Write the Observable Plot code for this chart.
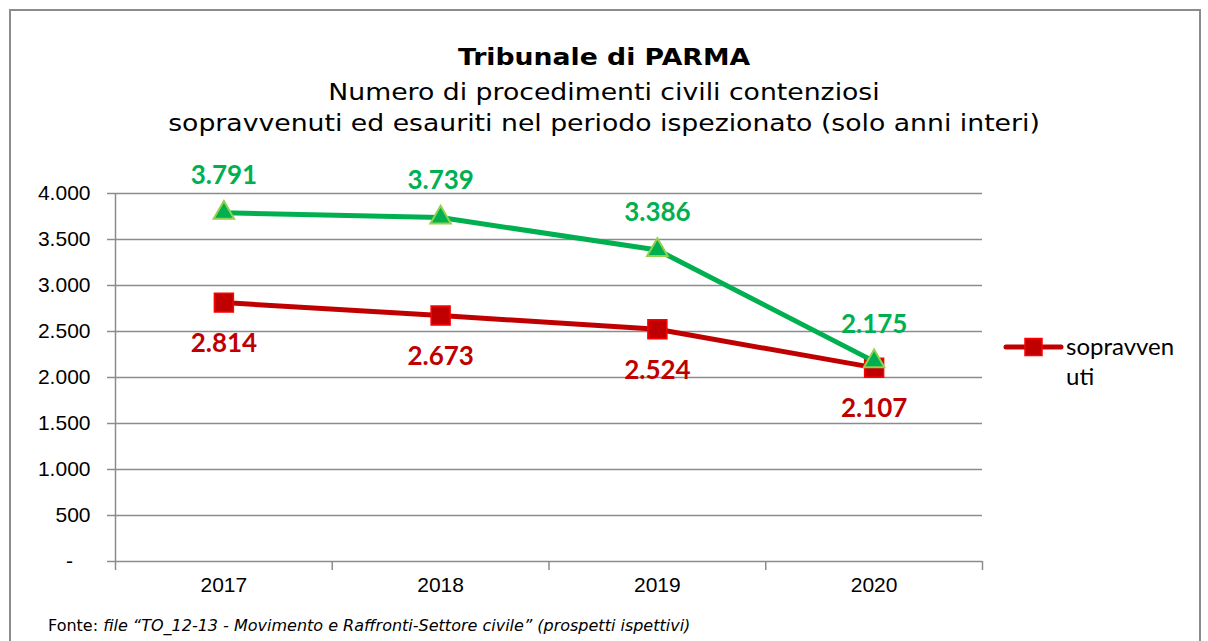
<!DOCTYPE html>
<html><head><meta charset="utf-8">
<script src="https://cdn.jsdelivr.net/npm/d3@7"></script>
<script src="https://cdn.jsdelivr.net/npm/@observablehq/plot@0.6"></script>
<style>
html,body{margin:0;padding:0;background:#fff;}
#wrap{position:relative;width:1208px;height:641px;overflow:hidden;}
#frame{position:absolute;left:9px;top:9px;width:1188px;height:700px;border:2px solid #8c8c8c;border-bottom:none;}
#chart{position:absolute;left:0;top:0;}
.t{position:absolute;left:0;width:1208px;text-align:center;font-family:"DejaVu Sans",Verdana,sans-serif;color:#000;white-space:nowrap;font-size:23px;line-height:28px;transform:scaleX(1.16);transform-origin:604px 0;}
#title{top:43px;font-weight:bold;}
#sub1{top:78px;}
#sub2{top:109px;}
#legend{position:absolute;left:1003px;top:331px;font-family:Lato,"Open Sans",sans-serif;font-size:24px;line-height:30px;color:#000;}
#legend svg{position:absolute;left:0;top:3px;}
#legend span{position:absolute;left:63px;top:0;white-space:nowrap;}
#source{position:absolute;left:48px;top:615px;font-family:"DejaVu Sans",Verdana,sans-serif;font-size:16px;line-height:22px;color:#000;white-space:nowrap;}
</style></head>
<body>
<div id="wrap">
  <div id="frame"></div>
  <div id="chart"></div>
  <div class="t" id="title">Tribunale di PARMA</div>
  <div class="t" id="sub1">Numero di procedimenti civili contenziosi</div>
  <div class="t" id="sub2">sopravvenuti ed esauriti nel periodo ispezionato (solo anni interi)</div>
  <div id="legend"><svg width="62" height="26"><line x1="3" y1="13" x2="58" y2="13" stroke="#C00000" stroke-width="5" stroke-linecap="round"/><rect x="22" y="4.5" width="17" height="17" fill="#C00000" stroke="#FF0000" stroke-width="1.5"/></svg><span>sopravven<br>uti</span></div>
  <div id="source">Fonte: <i>file “TO_12-13 - Movimento e Raffronti-Settore civile” (prospetti ispettivi)</i></div>
</div>
<script>
const years = [2017, 2018, 2019, 2020];
const sopravvenuti = [2814, 2673, 2524, 2107];
const esauriti = [3791, 3739, 3386, 2175];
const yTicks = [0, 500, 1000, 1500, 2000, 2500, 3000, 3500, 4000];

const red = years.map((y, i) => ({year: y, value: sopravvenuti[i]}));
const green = years.map((y, i) => ({year: y, value: esauriti[i]}));
const bounds = [years[0] - 0.5, ...years.map(y => y + 0.5)];
const fmt = d => d === 0 ? "-\u00a0\u00a0\u00a0" : d3.format(",")(d).replace(/,/g, ".");

const chart = Plot.plot({
  width: 1208,
  height: 641,
  marginTop: 193,
  marginBottom: 80,
  marginLeft: 115,
  marginRight: 226,
  style: {fontFamily: "'Liberation Sans', Arial, sans-serif", fontSize: "21px", background: "transparent"},
  x: {type: "linear", domain: [bounds[0], bounds[bounds.length - 1]], axis: null},
  y: {domain: [0, 4000], axis: null},
  marks: [
    Plot.ruleY(yTicks, {stroke: "#8c8c8c", strokeWidth: 1.5}),
    Plot.ruleX([bounds[0]], {stroke: "#8c8c8c", strokeWidth: 1.5}),
    Plot.axisY({ticks: yTicks, label: null, tickSize: 8, tickPadding: 17, tickFormat: fmt, fontSize: 21, stroke: "#8c8c8c", fill: "#000", strokeWidth: 1.5}),
    Plot.axisX({ticks: bounds, label: null, tickSize: 9, tickFormat: () => "", stroke: "#8c8c8c", strokeWidth: 1.5}),
    Plot.axisX({ticks: years, label: null, tickSize: 0, tickPadding: 16, tickFormat: d => String(d), fontSize: 21, fill: "#000"}),
    Plot.line(red, {x: "year", y: "value", stroke: "#C00000", strokeWidth: 5}),
    Plot.dot(red, {x: "year", y: "value", symbol: "square", r: 10.7, fill: "#C00000", stroke: "#FF0000", strokeWidth: 1.5}),
    Plot.line(green, {x: "year", y: "value", stroke: "#00B050", strokeWidth: 5}),
    Plot.dot(green, {x: "year", y: "value", symbol: "triangle", r: 7.6, fill: "#00B050", stroke: "#92D050", strokeWidth: 2}),
    Plot.text(green, {x: "year", y: "value", text: d => fmt(d.value), dy: -37, fill: "#00B050", fontSize: 26, fontWeight: "bold", fontFamily: "Lato, 'Open Sans', sans-serif"}),
    Plot.text(red, {x: "year", y: "value", text: d => fmt(d.value), dy: 41, fill: "#C00000", fontSize: 26, fontWeight: "bold", fontFamily: "Lato, 'Open Sans', sans-serif"})
  ]
});
document.getElementById("chart").appendChild(chart);
</script>
</body></html>
